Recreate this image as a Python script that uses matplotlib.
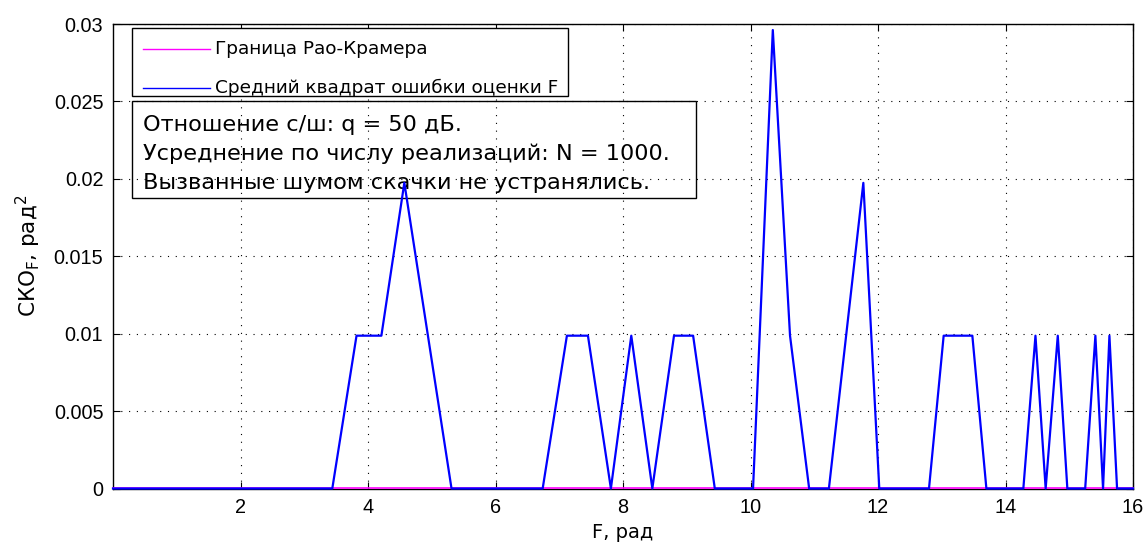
import matplotlib
matplotlib.use("Agg")
import matplotlib.pyplot as plt
from matplotlib.patches import Rectangle
from matplotlib.lines import Line2D

plt.rcParams['font.family'] = ['Liberation Sans', 'DejaVu Sans']
plt.rcParams['mathtext.fontset'] = 'custom'
plt.rcParams['mathtext.rm'] = 'DejaVu Sans'
plt.rcParams['mathtext.it'] = 'DejaVu Sans'

# Mean squared error of the F estimate (vertices of the piecewise-linear curve)
F_rad = [0.00, 3.44, 3.82, 4.21, 4.57, 5.31, 6.74, 7.12, 7.45, 7.81, 8.13, 8.46,
         8.80, 9.10, 9.44, 10.04, 10.35, 10.62, 10.92, 11.23, 11.77, 12.02,
         12.80, 13.03, 13.48, 13.70, 14.28, 14.47, 14.63, 14.82, 14.97,
         15.25, 15.41, 15.53, 15.63, 15.75, 16.00]
mse = [0, 0, 0.00987, 0.00987, 0.01974, 0, 0, 0.00987, 0.00987, 0, 0.00987, 0,
       0.00987, 0.00987, 0, 0, 0.02961, 0.00987, 0, 0, 0.01974, 0,
       0, 0.00987, 0.00987, 0, 0, 0.00987, 0, 0.00987, 0,
       0, 0.00987, 0, 0.00987, 0, 0]

# Cramer-Rao bound (practically zero at this SNR)
crb_F = [0.0, 16.0]
crb = [3e-6, 3e-6]

legend_labels = ['Граница Рао-Крамера', 'Средний квадрат ошибки оценки F']
note_lines = ['Отношение с/ш: q = 50 дБ.',
              'Усреднение по числу реализаций: N = 1000.',
              'Вызванные шумом скачки не устранялись.']
x_ticks = [2, 4, 6, 8, 10, 12, 14, 16]
y_ticks = [0, 0.005, 0.01, 0.015, 0.02, 0.025, 0.03]
y_ticklabels = ['0', '0.005', '0.01', '0.015', '0.02', '0.025', '0.03']

W, H = 1144, 548
WIDE = ['DejaVu Sans']


def fx(px):
    return px / W


def fy(py):
    return 1 - py / H


fig = plt.figure(figsize=(W / 100, H / 100), dpi=100)
ax = fig.add_axes([fx(113), fy(488.5), 1020 / W, 464.5 / H])

l_crb, = ax.plot(crb_F, crb, color=(1, 0, 1), lw=1.2, clip_on=False, zorder=3,
                 label=legend_labels[0])
l_mse, = ax.plot(F_rad, mse, color=(0, 0, 1), lw=1.6, clip_on=False, zorder=4,
                 label=legend_labels[1])

ax.set_xlim(0, 16)
ax.set_ylim(0, 0.03)
ax.set_xticks(x_ticks)
ax.set_yticks(y_ticks)
ax.set_yticklabels(y_ticklabels)
ax.grid(True, color='k', linestyle=(0, (1, 6)), linewidth=0.8)
ax.tick_params(direction='in', top=True, right=True, length=5, width=0.8,
               labelsize=14.3, pad=7)
for s in ax.spines.values():
    s.set_linewidth(1.0)

ax.set_xlabel('F, рад', fontsize=14, family=WIDE)
ax.set_ylabel('СКО$_\\mathregular{F}$, рад$^\\mathregular{2}$', fontsize=15.5,
              family=WIDE)
ax.xaxis.set_label_coords(0.5, -0.075)
ax.yaxis.set_label_coords(-0.069, 0.5)

# Transparent annotation box
ax.add_patch(Rectangle((fx(132), fy(198)), (696 - 132) / W, (198 - 101) / H,
                       transform=fig.transFigure, fill=False, edgecolor='k',
                       lw=1.0, clip_on=False, zorder=2.6))
for i, line in enumerate(note_lines):
    ax.text(fx(143), fy(125 + 29 * i), line, transform=fig.transFigure,
            fontsize=16.1, family=WIDE, ha='left', va='center', zorder=2.7)

# Legend box (opaque, on top of everything)
fig.add_artist(Rectangle((fx(132), fy(96)), (568 - 132) / W, (96 - 28) / H,
                         transform=fig.transFigure, facecolor='white',
                         edgecolor='k', lw=1.0, zorder=10))
for row_y, src in zip([49, 88], [l_crb, l_mse]):
    fig.add_artist(Line2D([fx(143), fx(210)], [fy(row_y), fy(row_y)],
                          transform=fig.transFigure, color=src.get_color(),
                          lw=1.0, zorder=11))
    fig.add_artist(plt.Text(fx(215), fy(row_y), src.get_label(),
                            transform=fig.transFigure, fontsize=13.3,
                            family=WIDE, ha='left', va='center', zorder=11))

fig.savefig('out.png', dpi=100)
